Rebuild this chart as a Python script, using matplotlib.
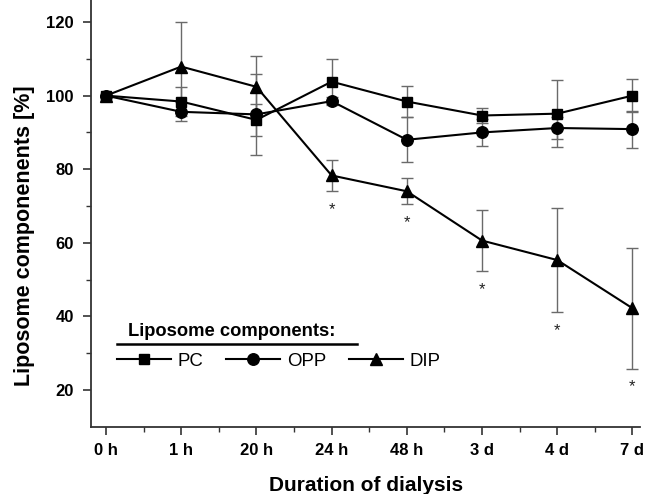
import matplotlib
matplotlib.use("Agg")
import matplotlib.pyplot as plt

categories = ["0 h", "1 h", "20 h", "24 h", "48 h", "3 d", "4 d", "7 d"]
pc_values = [100, 98.4, 93.4, 103.8, 98.4, 94.6, 95.1, 100.0]
pc_err = [0, 4.0, 4.3, 6.2, 4.1, 2.0, 9.1, 4.4]
opp_values = [100, 95.6, 94.9, 98.5, 88.0, 90.0, 91.2, 90.9]
opp_err = [0, 2.6, 11.0, 1.0, 6.1, 3.6, 3.0, 5.0]
dip_values = [100, 107.9, 102.4, 78.3, 74.0, 60.6, 55.3, 42.2]
dip_err = [0, 12.0, 8.3, 4.1, 3.5, 8.2, 14.1, 16.5]
star_idx = [3, 4, 5, 6, 7]
star_y = [68.9, 65.5, 47.4, 36.1, 20.8]

plt.rcParams['font.family'] = ['Liberation Sans', 'DejaVu Sans']

W, H = 647, 494
fig = plt.figure(figsize=(6.47, 4.94), dpi=100)
ax_left, ax_bottom, ax_w, ax_h = 90.5 / W, 1 - 426.7 / H, 549.5 / W, 426.7 / H
ax = fig.add_axes([ax_left, ax_bottom, ax_w, ax_h])

x = list(range(len(categories)))
series = [
    ("PC", pc_values, pc_err, "s", 6.7),
    ("OPP", opp_values, opp_err, "o", 8.3),
    ("DIP", dip_values, dip_err, "^", 9),
]
for name, vals, err, mk, ms in series:
    ax.errorbar(x, vals, yerr=err, fmt="none", ecolor="#6a6a6a",
                elinewidth=1.0, capsize=4, capthick=1.0, zorder=2)
for name, vals, err, mk, ms in series:
    ax.plot(x, vals, color="black", lw=1.5, marker=mk, markersize=ms,
            markerfacecolor="black", markeredgecolor="black", label=name, zorder=3)

for i, yv in zip(star_idx, star_y):
    ax.text(x[i], yv, "*", ha="center", va="center", fontsize=12, color="#222222")

ax.set_xlim(-0.206, 7.1)
ax.set_ylim(10, 126)
ax.set_xticks(x)
ax.set_xticklabels(categories, fontweight="bold", fontsize=12)
ax.set_xticks([i + 0.5 for i in x[:-1]], minor=True)
ax.set_yticks([20, 40, 60, 80, 100, 120])
ax.set_yticklabels(["20", "40", "60", "80", "100", "120"], fontweight="bold", fontsize=12)
ax.set_yticks([30, 50, 70, 90, 110], minor=True)
ax.tick_params(axis="both", which="major", length=6, width=1.2, color="#333333", pad=6)
ax.tick_params(axis="both", which="minor", length=3.5, width=1.0, color="#333333")
for s in ["top", "right"]:
    ax.spines[s].set_visible(False)
for s in ["left", "bottom"]:
    ax.spines[s].set_color("#333333")
    ax.spines[s].set_linewidth(1.3)

ax.set_xlabel("Duration of dialysis", fontsize=15, fontweight="bold")
ax.set_ylabel("Liposome componenents [%]", fontsize=15.5, fontweight="bold")
ax.xaxis.set_label_coords(0.502, -0.116)
ax.yaxis.set_label_coords(-0.101, 0.447)

def px_to_ax(px, py):
    return (px - 90.5) / 549.5, (426.7 - py) / 426.7

leg = ax.legend(loc="center left", bbox_to_anchor=px_to_ax(116.7, 361), ncol=3,
                frameon=False, fontsize=13.4, handlelength=2.9,
                columnspacing=1.25, handletextpad=0.35, borderaxespad=0, borderpad=0)

tx, ty = px_to_ax(128, 331)
ax.text(tx, ty, "Liposome components:", transform=ax.transAxes, ha="left", va="center",
        fontsize=13.2, fontweight="bold")
ux0, uy = px_to_ax(116.7, 344.3)
ux1, _ = px_to_ax(357, 344.3)
ax.plot([ux0, ux1], [uy, uy], transform=ax.transAxes, color="black", lw=1.8, clip_on=False)

fig.savefig("out.png", dpi=100)
